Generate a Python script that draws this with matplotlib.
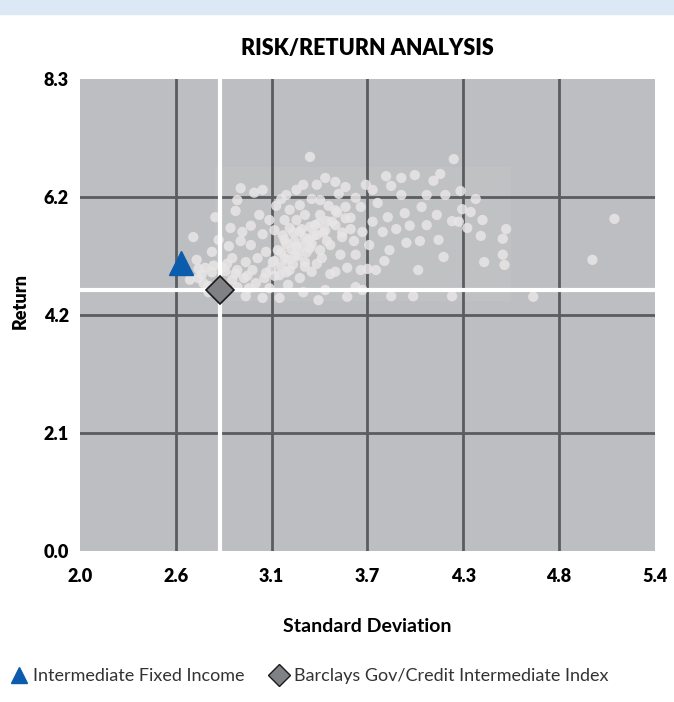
import matplotlib
matplotlib.use('Agg')
import matplotlib.pyplot as plt
from matplotlib.lines import Line2D
from matplotlib.patches import Rectangle
import numpy as np

plt.rcParams['font.family'] = ['Lato', 'DejaVu Sans']

# Axis ticks (evenly spaced, labels rounded to one decimal)
x_ticks = [2.0, 2.567, 3.133, 3.7, 4.267, 4.833, 5.4]
x_labels = ['2.0', '2.6', '3.1', '3.7', '4.3', '4.8', '5.4']
y_ticks = [0.0, 2.075, 4.15, 6.225, 8.3]
y_labels = ['0.0', '2.1', '4.2', '6.2', '8.3']

# Peer universe (standard deviation, return)
peer_sd = [3.36, 4.21, 5.16, 5.03, 4.68, 4.50, 4.50, 4.52, 4.51, 4.39,
           4.37, 4.38, 4.34, 4.26, 4.25, 4.13, 4.09, 4.16, 4.20, 4.24,
           4.11, 4.02, 3.98, 3.90, 3.84, 3.81, 3.90, 3.92, 3.95, 3.93,
           3.87, 3.82, 3.79, 3.83, 3.80, 3.84, 3.71, 3.70, 3.63, 3.73,
           3.69, 3.66, 3.60, 3.55, 3.57, 3.53, 3.47, 3.49, 3.46, 3.42,
           3.40, 3.37, 3.32, 3.28, 3.22, 3.19, 3.16, 3.08, 3.03, 2.93,
           2.92, 2.80, 2.67, 2.82, 2.88, 2.95, 3.01, 3.08, 3.05, 2.98,
           2.90, 2.84, 2.74, 2.70, 2.65, 2.73, 2.90, 2.97, 3.04, 3.10,
           3.14, 3.17, 3.21, 3.24, 3.28, 3.30, 3.28, 3.23, 3.18, 3.12,
           3.23, 3.33, 3.36, 3.40, 3.43, 3.37, 3.30, 3.32, 3.45, 3.51,
           3.54, 3.58, 3.63, 3.58, 3.41, 3.18, 3.08, 2.98, 3.30, 3.12,
           3.06, 3.01, 3.10, 2.96, 2.89, 2.78, 2.69, 2.76, 3.02, 2.93,
           3.45, 3.51, 3.63, 3.76, 3.73, 3.67, 4.01, 4.05, 4.15, 4.00,
           4.12, 4.05, 4.29, 4.31, 3.97, 4.20, 3.48, 3.67, 3.66, 3.75,
           2.95, 3.33, 3.39, 3.45, 3.35, 3.42, 3.48, 3.51, 3.57, 3.24,
           3.29, 3.24, 3.15, 3.21, 3.51, 3.42,
           # dense core
           3.20, 3.26, 3.31, 3.36, 3.41, 3.46, 3.22, 3.27, 3.33, 3.38,
           3.44, 3.19, 3.25, 3.31, 3.37, 3.15, 3.21, 3.27, 3.34, 3.40,
           3.13, 3.19, 3.26, 3.33, 3.09, 3.15, 3.22, 2.72, 2.78, 2.86,
           2.92, 2.99, 2.76, 2.84, 2.93, 3.00, 2.70, 2.79, 2.87, 3.55,
           3.60, 3.52, 3.57, 3.62]
peer_ret = [6.93, 6.89, 5.84, 5.12, 4.47, 5.21, 5.49, 5.66, 5.03, 5.08,
            5.54, 5.82, 6.19, 6.01, 6.33, 6.63, 6.51, 6.26, 5.80, 5.79,
            5.91, 6.05, 6.61, 6.56, 6.42, 6.59, 6.26, 5.94, 5.72, 5.42,
            5.66, 5.87, 5.61, 5.29, 5.10, 4.48, 5.38, 4.96, 4.64, 6.35,
            6.44, 6.05, 5.86, 5.52, 6.40, 6.28, 6.07, 5.79, 5.45, 5.91,
            6.44, 6.19, 6.44, 6.35, 6.26, 6.19, 6.07, 6.35, 6.30, 6.17,
            5.98, 5.87, 5.52, 5.47, 5.36, 5.45, 5.38, 5.57, 5.15, 5.08,
            5.15, 4.98, 4.98, 4.80, 4.77, 4.71, 4.77, 4.80, 4.71, 4.89,
            5.08, 5.29, 5.47, 5.68, 5.82, 5.61, 5.36, 5.12, 4.85, 4.62,
            4.68, 5.08, 5.33, 5.56, 5.15, 4.91, 4.80, 4.55, 4.59, 4.91,
            5.21, 4.98, 5.21, 4.47, 4.41, 4.45, 4.45, 4.48, 6.08, 5.82,
            5.91, 5.72, 5.26, 5.61, 5.68, 5.26, 5.12, 4.55, 4.94, 4.94,
            6.56, 6.49, 6.21, 6.12, 5.79, 5.61, 5.45, 6.26, 5.17, 4.94,
            5.47, 5.73, 5.68, 5.96, 4.48, 4.48, 4.87, 4.59, 4.94, 4.94,
            6.38, 5.91, 5.73, 5.64, 5.47, 5.29, 5.38, 5.73, 6.05, 6.00,
            5.19, 4.94, 5.64, 5.82, 5.99, 6.17,
            5.55, 5.60, 5.66, 5.70, 5.76, 5.80, 5.40, 5.45, 5.50, 5.55,
            5.60, 5.25, 5.30, 5.35, 5.40, 5.10, 5.15, 5.20, 5.25, 5.05,
            4.95, 5.00, 5.04, 5.00, 4.80, 4.84, 4.90, 4.86, 4.90, 4.92,
            4.88, 4.84, 4.66, 4.70, 4.64, 4.62, 4.96, 5.02, 5.05, 5.60,
            5.66, 5.95, 5.85, 5.45]

fund_name = 'Intermediate Fixed Income'
fund_sd, fund_ret = 2.60, 5.06
index_name = 'Barclays Gov/Credit Intermediate Index'
index_sd, index_ret = 2.83, 4.59

fig = plt.figure(figsize=(6.74, 7.02), dpi=100)
ax = fig.add_axes([0.1187, 0.2151, 0.8531, 0.6724])

# light band at the very top
fig.patches.append(Rectangle((0, 0.980), 1, 0.02, transform=fig.transFigure,
                             color='#dce8f5', zorder=0))

ax.set_facecolor('#bcbec2')
ax.set_xlim(x_ticks[0], x_ticks[-1])
ax.set_ylim(y_ticks[0], y_ticks[-1])
for s in ax.spines.values():
    s.set_visible(False)

# faint lighter haze behind the peer cloud
ax.add_patch(Rectangle((2.8, 4.4), 1.75, 2.35, color='#c6c8c5', alpha=0.35,
                       lw=0, zorder=0.5))

# dark grid at inner ticks
for xv in x_ticks[1:-1]:
    ax.axvline(xv, color='#5a5c60', lw=2, zorder=1)
for yv in y_ticks[1:-1]:
    ax.axhline(yv, color='#5a5c60', lw=2, zorder=1)

ax.scatter(peer_sd, peer_ret, s=55, color='#e8e5e5', alpha=0.85,
           edgecolors='none', zorder=2)

# index crosshair
ax.axvline(index_sd, color='white', lw=3, zorder=3)
ax.axhline(index_ret, color='white', lw=3, zorder=3)

ax.plot(fund_sd, fund_ret, marker='^', ms=17, color='#0b5cad', ls='none', zorder=4)
ax.plot(index_sd, index_ret, marker='D', ms=14, mfc='#808184', mec='#1a1a1a',
        mew=1.2, ls='none', zorder=4)

ax.set_xticks(x_ticks)
ax.set_xticklabels(x_labels)
ax.set_yticks(y_ticks)
ax.set_yticklabels(y_labels)
ax.tick_params(length=0, labelsize=13, labelcolor='black')
ax.tick_params(axis='x', pad=12)
ax.tick_params(axis='y', pad=8)
for lbl in ax.get_xticklabels() + ax.get_yticklabels():
    lbl.set_fontweight('heavy')

ax.set_title('RISK/RETURN ANALYSIS', fontsize=15.5, fontweight='heavy', pad=17)
ax.set_xlabel('Standard Deviation', fontsize=14, fontweight='bold', labelpad=24)
ax.set_ylabel('Return', fontsize=13, fontweight='heavy')
ax.yaxis.set_label_coords(-0.09, 0.53)

handles = [Line2D([], [], marker='^', ms=11, color='#0b5cad', ls='none'),
           Line2D([], [], marker='D', ms=11, mfc='#808184', mec='#1a1a1a',
                  mew=1, ls='none')]
fig.legend(handles, [fund_name, index_name], loc='center left',
           bbox_to_anchor=(-0.012, 0.037), ncol=2, frameon=False,
           fontsize=13, handletextpad=0.2, columnspacing=1.3,
           handlelength=1.2, labelcolor='#333333')

fig.savefig('out.png', dpi=100)
